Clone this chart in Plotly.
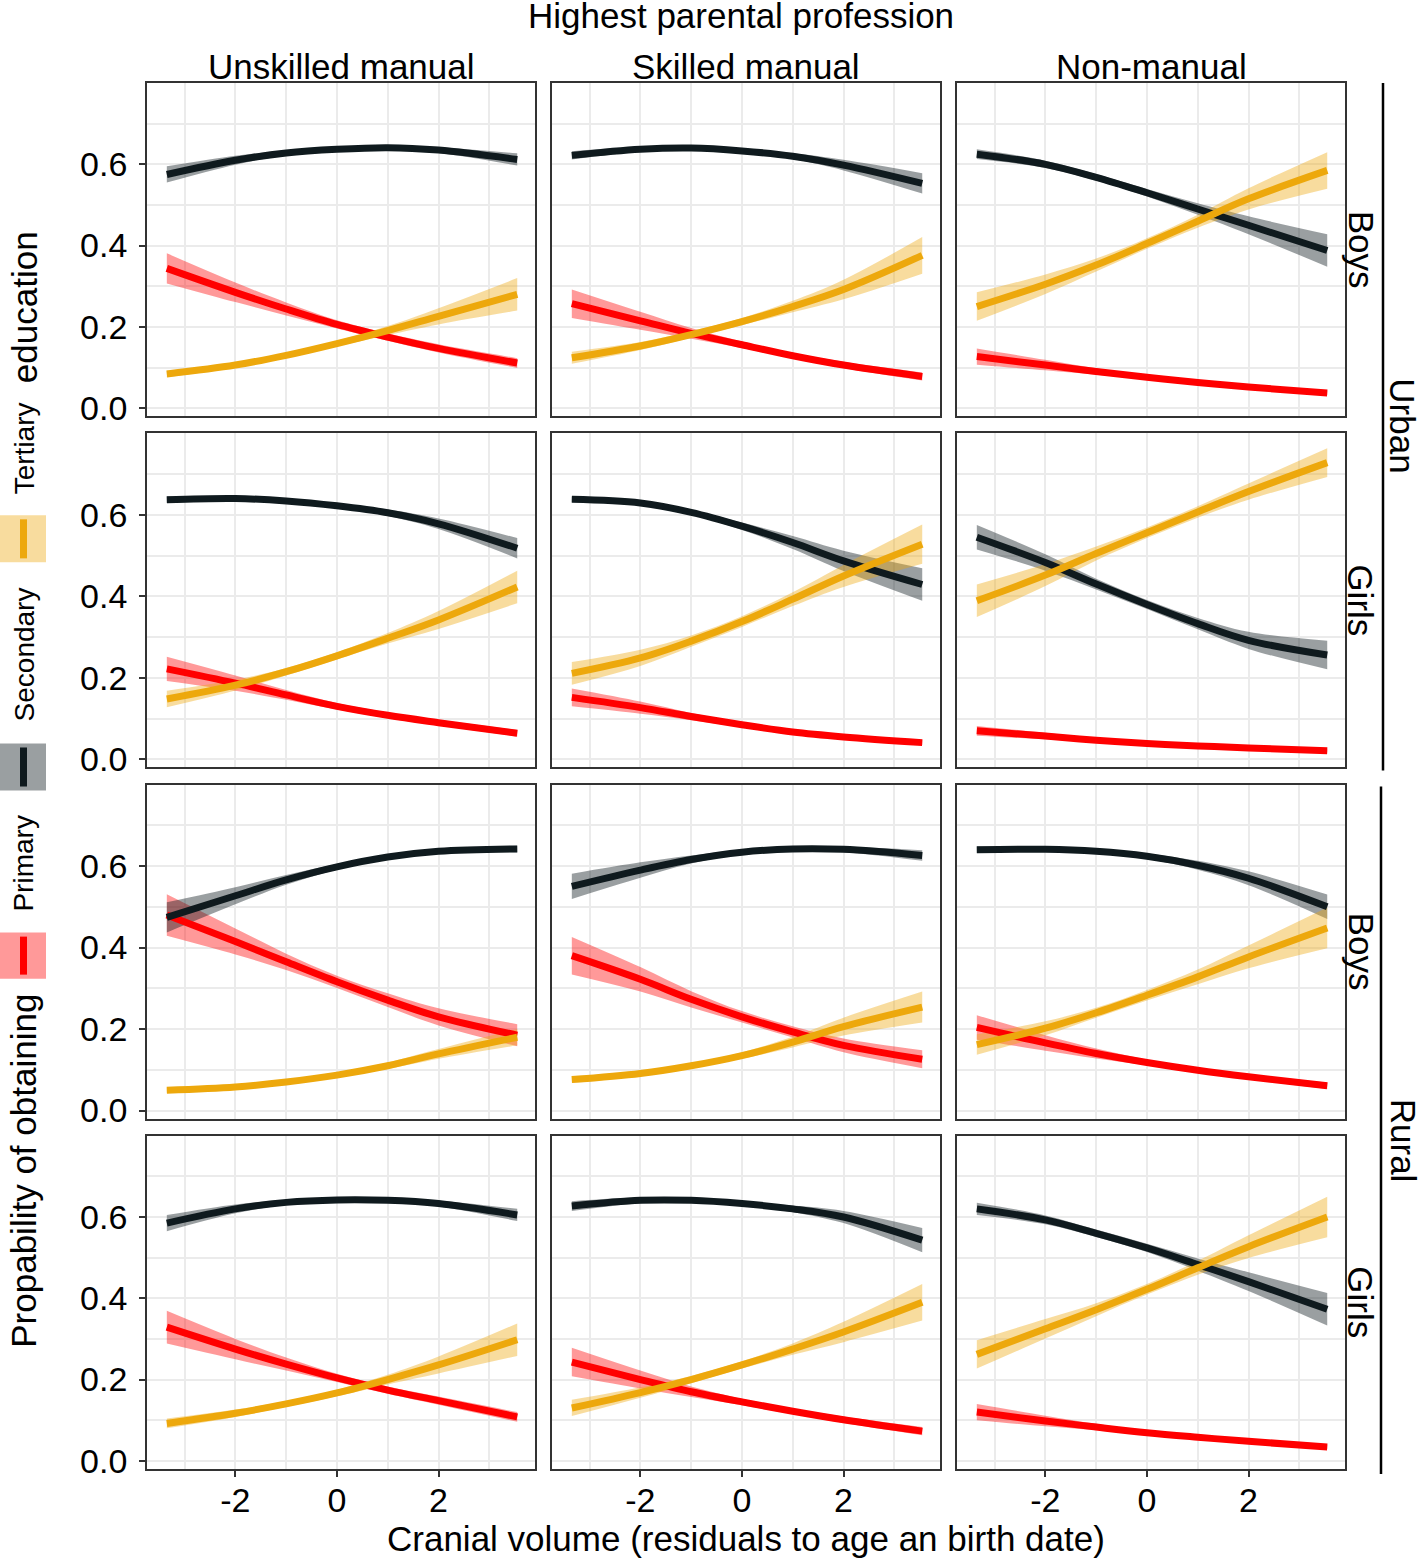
import plotly.graph_objects as go

W, H = 1418, 1558
H_EFF = 1546  # the rendered page is compressed vertically to this height

COL_LABELS = ["Unskilled manual", "Skilled manual", "Non-manual"]
ROW_LABELS = ["Boys", "Girls", "Boys", "Girls"]
AREA_LABELS = ["Urban", "Rural"]
LEVELS = ["Primary", "Secondary", "Tertiary"]
X_POINTS = [-3.35, -2.0, -1.0, 0.0, 1.0, 2.0, 3.55]
X_TICKS = [-2, 0, 2]
X_MINOR = [-3, -1, 1, 3]
Y_TICKS = [0.0, 0.2, 0.4, 0.6]
Y_MINOR = [0.1, 0.3, 0.5, 0.7]

# rows: Urban Boys, Urban Girls, Rural Boys, Rural Girls ; cols: Unskilled, Skilled, Non-manual
PRIMARY_MEAN = [
    [[0.344, 0.285, 0.244, 0.206, 0.175, 0.147, 0.111],
     [0.257, 0.215, 0.184, 0.156, 0.129, 0.106, 0.078],
     [0.127, 0.106, 0.090, 0.076, 0.063, 0.052, 0.037]],
    [[0.222, 0.187, 0.158, 0.130, 0.108, 0.090, 0.064],
     [0.152, 0.127, 0.105, 0.085, 0.067, 0.055, 0.041],
     [0.070, 0.057, 0.047, 0.039, 0.033, 0.028, 0.021]],
    [[0.480, 0.415, 0.365, 0.316, 0.271, 0.230, 0.185],
     [0.380, 0.322, 0.273, 0.230, 0.193, 0.160, 0.126],
     [0.204, 0.166, 0.140, 0.118, 0.099, 0.083, 0.061]],
    [[0.329, 0.275, 0.238, 0.204, 0.174, 0.148, 0.108],
     [0.243, 0.200, 0.170, 0.145, 0.122, 0.101, 0.073],
     [0.120, 0.098, 0.083, 0.069, 0.058, 0.048, 0.034]],
]
PRIMARY_HW = [
    [[0.037, 0.024, 0.016, 0.010, 0.009, 0.010, 0.012],
     [0.035, 0.022, 0.013, 0.008, 0.007, 0.008, 0.010],
     [0.020, 0.013, 0.008, 0.005, 0.004, 0.004, 0.005]],
    [[0.030, 0.019, 0.012, 0.008, 0.007, 0.007, 0.008],
     [0.022, 0.015, 0.009, 0.006, 0.005, 0.005, 0.006],
     [0.012, 0.008, 0.005, 0.004, 0.003, 0.003, 0.004]],
    [[0.051, 0.032, 0.020, 0.015, 0.017, 0.021, 0.027],
     [0.046, 0.030, 0.020, 0.014, 0.014, 0.017, 0.022],
     [0.030, 0.019, 0.012, 0.007, 0.006, 0.006, 0.008]],
    [[0.040, 0.025, 0.016, 0.010, 0.009, 0.010, 0.012],
     [0.035, 0.022, 0.013, 0.008, 0.007, 0.008, 0.010],
     [0.020, 0.013, 0.008, 0.005, 0.004, 0.004, 0.005]],
]
SECONDARY_MEAN = [
    [[0.575, 0.610, 0.628, 0.637, 0.641, 0.635, 0.612],
     [0.622, 0.637, 0.640, 0.633, 0.620, 0.598, 0.553],
     [0.625, 0.600, 0.568, 0.530, 0.490, 0.450, 0.388]],
    [[0.637, 0.640, 0.634, 0.622, 0.605, 0.578, 0.518],
     [0.638, 0.629, 0.606, 0.572, 0.532, 0.487, 0.429],
     [0.545, 0.483, 0.430, 0.380, 0.333, 0.292, 0.256]],
    [[0.474, 0.527, 0.566, 0.598, 0.622, 0.636, 0.642],
     [0.550, 0.590, 0.616, 0.634, 0.642, 0.641, 0.626],
     [0.640, 0.641, 0.636, 0.624, 0.602, 0.570, 0.500]],
    [[0.585, 0.620, 0.636, 0.642, 0.641, 0.633, 0.605],
     [0.627, 0.641, 0.641, 0.633, 0.620, 0.600, 0.543],
     [0.620, 0.593, 0.560, 0.524, 0.483, 0.441, 0.373]],
]
SECONDARY_HW = [
    [[0.020, 0.011, 0.006, 0.004, 0.004, 0.007, 0.015],
     [0.010, 0.006, 0.004, 0.004, 0.007, 0.013, 0.025],
     [0.012, 0.009, 0.008, 0.009, 0.014, 0.022, 0.040]],
    [[0.008, 0.005, 0.004, 0.005, 0.008, 0.013, 0.025],
     [0.006, 0.005, 0.005, 0.009, 0.016, 0.025, 0.040],
     [0.030, 0.020, 0.013, 0.011, 0.014, 0.021, 0.035]],
    [[0.037, 0.021, 0.012, 0.007, 0.005, 0.005, 0.008],
     [0.031, 0.019, 0.010, 0.006, 0.005, 0.007, 0.013],
     [0.008, 0.005, 0.005, 0.007, 0.011, 0.017, 0.030]],
    [[0.020, 0.011, 0.006, 0.004, 0.004, 0.007, 0.015],
     [0.012, 0.007, 0.004, 0.005, 0.008, 0.015, 0.030],
     [0.015, 0.011, 0.009, 0.010, 0.015, 0.023, 0.040]],
]
TERTIARY_MEAN = [
    [[0.084, 0.106, 0.130, 0.159, 0.191, 0.226, 0.280],
     [0.124, 0.153, 0.181, 0.213, 0.250, 0.292, 0.376],
     [0.250, 0.305, 0.352, 0.405, 0.460, 0.515, 0.585]],
    [[0.148, 0.182, 0.215, 0.254, 0.297, 0.342, 0.423],
     [0.211, 0.249, 0.290, 0.338, 0.393, 0.450, 0.528],
     [0.389, 0.452, 0.505, 0.556, 0.607, 0.657, 0.728]],
    [[0.050, 0.058, 0.070, 0.087, 0.110, 0.139, 0.180],
     [0.076, 0.091, 0.110, 0.135, 0.168, 0.206, 0.254],
     [0.162, 0.202, 0.240, 0.283, 0.328, 0.377, 0.448]],
    [[0.092, 0.117, 0.140, 0.167, 0.200, 0.236, 0.298],
     [0.130, 0.168, 0.200, 0.236, 0.275, 0.317, 0.390],
     [0.262, 0.325, 0.372, 0.422, 0.475, 0.527, 0.600]],
]
TERTIARY_HW = [
    [[0.008, 0.006, 0.006, 0.007, 0.011, 0.020, 0.040],
     [0.015, 0.010, 0.008, 0.009, 0.014, 0.024, 0.045],
     [0.035, 0.024, 0.016, 0.013, 0.016, 0.026, 0.045]],
    [[0.020, 0.013, 0.009, 0.009, 0.013, 0.022, 0.040],
     [0.028, 0.020, 0.014, 0.013, 0.017, 0.027, 0.048],
     [0.040, 0.027, 0.017, 0.013, 0.014, 0.020, 0.035]],
    [[0.006, 0.004, 0.004, 0.005, 0.008, 0.012, 0.020],
     [0.008, 0.006, 0.006, 0.008, 0.013, 0.022, 0.038],
     [0.025, 0.017, 0.012, 0.013, 0.018, 0.028, 0.050]],
    [[0.012, 0.009, 0.007, 0.008, 0.012, 0.021, 0.040],
     [0.020, 0.013, 0.009, 0.009, 0.014, 0.025, 0.045],
     [0.035, 0.024, 0.016, 0.013, 0.017, 0.028, 0.050]],
]

SERIES = [
    ("Primary", PRIMARY_MEAN, PRIMARY_HW, "#FF0000", "rgba(255,0,0,0.4)"),
    ("Secondary", SECONDARY_MEAN, SECONDARY_HW, "#0F1A1E", "rgba(15,26,30,0.42)"),
    ("Tertiary", TERTIARY_MEAN, TERTIARY_HW, "#EDA80C", "rgba(237,168,12,0.4)"),
]

COL_PX = [(147, 535), (552, 940), (957, 1345)]
ROW_PX = [(83, 416), (433, 767), (784, 1118), (1135, 1468)]
X_RANGE = [-3.74, 3.90]
Y_RANGE = [-0.02, 0.80]

FONT = "Liberation Sans, Arial, Helvetica, sans-serif"


def px(x):
    return x / W


def py(y):
    return 1 - y / H_EFF


fig = go.Figure()
layout = {}

for r in range(4):
    for c in range(3):
        i = r * 3 + c + 1
        xn = "x" if i == 1 else f"x{i}"
        yn = "y" if i == 1 else f"y{i}"
        xk = "xaxis" if i == 1 else f"xaxis{i}"
        yk = "yaxis" if i == 1 else f"yaxis{i}"
        for name, mean, hw, lc, fc in SERIES:
            m = mean[r][c]
            h = hw[r][c]
            lo = [a - b for a, b in zip(m, h)]
            hi = [a + b for a, b in zip(m, h)]
            fig.add_trace(go.Scatter(x=X_POINTS, y=lo, xaxis=xn, yaxis=yn, mode="lines",
                                     line=dict(width=0, shape="spline", color=fc),
                                     showlegend=False, hoverinfo="skip"))
            fig.add_trace(go.Scatter(x=X_POINTS, y=hi, xaxis=xn, yaxis=yn, mode="lines",
                                     line=dict(width=0, shape="spline", color=fc),
                                     fill="tonexty", fillcolor=fc,
                                     showlegend=False, hoverinfo="skip"))
        for name, mean, hw, lc, fc in SERIES:
            fig.add_trace(go.Scatter(x=X_POINTS, y=mean[r][c], xaxis=xn, yaxis=yn, mode="lines",
                                     line=dict(width=7, shape="spline", color=lc),
                                     name=name, showlegend=False))
        x0, x1 = COL_PX[c]
        y0, y1 = ROW_PX[r]
        layout[xk] = dict(
            domain=[px(x0), px(x1)], range=X_RANGE, anchor=yn,
            tickmode="array", tickvals=X_TICKS, ticktext=[str(v) for v in X_TICKS],
            showticklabels=(r == 3), ticks="outside" if r == 3 else "",
            ticklen=6, tickwidth=2, tickcolor="#333333", ticklabelstandoff=-6,
            tickfont=dict(size=34, color="#000000", family=FONT),
            showgrid=True, gridcolor="#EBEBEB", gridwidth=2,
            minor=dict(tickvals=X_MINOR, showgrid=True, gridcolor="#EBEBEB", gridwidth=2, ticks=""),
            zeroline=False, showline=True, mirror=True, linecolor="#333333", linewidth=1.8,
        )
        layout[yk] = dict(
            domain=[py(y1), py(y0)], range=Y_RANGE, anchor=xn,
            tickmode="array", tickvals=Y_TICKS, ticktext=[f"{v:.1f}" for v in Y_TICKS],
            showticklabels=(c == 0), ticks="outside" if c == 0 else "",
            ticklen=6, tickwidth=2, tickcolor="#333333", ticklabelstandoff=5,
            tickfont=dict(size=34, color="#000000", family=FONT),
            showgrid=True, gridcolor="#EBEBEB", gridwidth=2,
            minor=dict(tickvals=Y_MINOR, showgrid=True, gridcolor="#EBEBEB", gridwidth=2, ticks=""),
            zeroline=False, showline=True, mirror=True, linecolor="#333333", linewidth=1.8,
        )

annotations = []


def ann(text, x, y, size=35, angle=0):
    annotations.append(dict(text=text, x=px(x), y=py(y), xref="paper", yref="paper",
                            showarrow=False, textangle=angle, xanchor="center", yanchor="middle",
                            font=dict(size=size, color="#000000", family=FONT)))


ann("Highest parental profession", 741, 15)
for c, lab in enumerate(COL_LABELS):
    ann(lab, (COL_PX[c][0] + COL_PX[c][1]) / 2, 66)
for r, lab in enumerate(ROW_LABELS):
    ann(lab, 1361, (ROW_PX[r][0] + ROW_PX[r][1]) / 2, angle=90)
ann(AREA_LABELS[0], 1403, 425, angle=90)
ann(AREA_LABELS[1], 1403, 1140, angle=90)
ann("Cranial volume (residuals to age an birth date)", 746, 1538)

ann("Propability of obtaining", 24, 1170, angle=-90)
ann("Primary", 24, 863, size=28, angle=-90)
ann("Secondary", 24, 654, size=28, angle=-90)
ann("Tertiary", 24, 448, size=28, angle=-90)
ann("education", 24, 307, angle=-90)

shapes = []
shapes.append(dict(type="line", xref="paper", yref="paper", x0=px(1383), x1=px(1383),
                   y0=py(83), y1=py(770), line=dict(color="#000000", width=2.5)))
shapes.append(dict(type="line", xref="paper", yref="paper", x0=px(1381), x1=px(1381),
                   y0=py(786), y1=py(1473), line=dict(color="#000000", width=2.5)))
KEY_BOXES = [(932, 978, "Primary"), (743, 790, "Secondary"), (515, 562, "Tertiary")]
for top, bot, name in KEY_BOXES:
    lc = [s[3] for s in SERIES if s[0] == name][0]
    fc = [s[4] for s in SERIES if s[0] == name][0]
    shapes.append(dict(type="rect", xref="paper", yref="paper", x0=px(0), x1=px(46),
                       y0=py(bot), y1=py(top), fillcolor=fc, line=dict(width=0)))
    shapes.append(dict(type="line", xref="paper", yref="paper", x0=px(23.5), x1=px(23.5),
                       y0=py(bot - 4), y1=py(top + 4), line=dict(color=lc, width=7)))

fig.update_layout(
    width=W, height=H, autosize=False, margin=dict(l=0, r=0, t=0, b=0, pad=0),
    plot_bgcolor="#FFFFFF", paper_bgcolor="#FFFFFF",
    showlegend=False, annotations=annotations, shapes=shapes,
    font=dict(family=FONT, color="#000000"),
    **layout,
)

fig.write_html("out.html",
               config={"displayModeBar": False, "responsive": False},
               post_script="document.body.style.margin='0';document.body.style.overflow='hidden';")
